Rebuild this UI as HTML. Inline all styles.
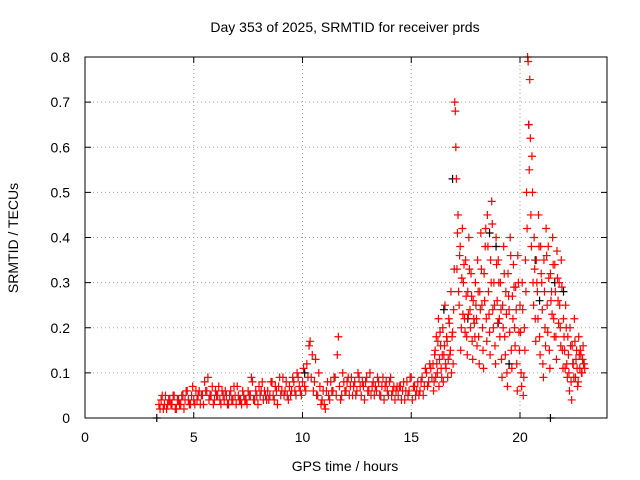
<!DOCTYPE html>
<html><head><meta charset="utf-8"><style>
html,body{margin:0;padding:0;background:#fff;}
svg{display:block;font-family:"Liberation Sans",sans-serif;}
</style></head><body>
<svg id="chart" width="640" height="480" viewBox="0 0 640 480" xmlns="http://www.w3.org/2000/svg">
<rect width="640" height="480" fill="#fff"/>
<text x="345" y="32" font-size="14" text-anchor="middle" fill="#000">Day 353 of 2025, SRMTID for receiver prds</text>
<text x="345" y="471" font-size="14" text-anchor="middle" fill="#000">GPS time / hours</text>
<text x="18" y="238" font-size="14" text-anchor="middle" fill="#000" transform="rotate(-90 18 238)">SRMTID / TECUs</text>
<g id="grid"></g><g id="ticks"></g><g id="marks"></g>
<rect x="85" y="57" width="522" height="361" fill="none" stroke="#000" stroke-width="1"/>
</svg>
<script>
const xTicks=[0,5,10,15,20];
const yTicks=[0,0.1,0.2,0.3,0.4,0.5,0.6,0.7,0.8];
const yTickLabels=["0","0.1","0.2","0.3","0.4","0.5","0.6","0.7","0.8"];
const bandAX=[3.4,3.5,3.6,3.7,3.8,3.9,4.0,4.1,4.2,4.3,4.4,4.5,4.6,4.7,4.8,4.9,5.0,5.1,5.2,5.3,5.4,5.5,5.6,5.7,5.8,5.9,6.0,6.1,6.2,6.3,6.4,6.5,6.6,6.7,6.8,6.9,7.0,7.1,7.2,7.3,7.4,7.5,7.6,7.7,7.8,7.9,8.0,8.1,8.2,8.3,8.4,8.5,8.6,8.7,8.8,8.9,9.0,9.1,9.2,9.3,9.4,9.5,9.6,9.7,9.8,9.9,10.0,10.1,10.2,10.3,10.4,10.5,10.6,10.7,10.8,10.9,11.0,11.1,11.2,11.3,11.4,11.5,11.6,11.7,11.8,11.9,12.0,12.1,12.2,12.3,12.4,12.5,12.6,12.7,12.8,12.9,13.0,13.1,13.2,13.3,13.4,13.5,13.6,13.7,13.8,13.9,14.0,14.1,14.2,14.3,14.4,14.5,14.6,14.7,14.8,14.9,15.0,15.1,15.2,15.3,15.4,15.5,15.6,15.7,15.8,15.9];
const bandAY=[.03,.04,.02,.05,.03,.04,.03,.05,.02,.04,.03,.05,.04,.06,.03,.05,.04,.06,.05,.03,.05,.08,.06,.04,.05,.03,.06,.05,.04,.06,.04,.05,.03,.06,.04,.05,.07,.04,.03,.05,.04,.06,.05,.08,.04,.05,.07,.06,.04,.05,.06,.05,.08,.04,.06,.07,.05,.09,.06,.05,.07,.06,.08,.05,.09,.06,.08,.07,.12,.16,.09,.06,.13,.05,.07,.04,.03,.06,.05,.08,.06,.09,.14,.07,.05,.08,.06,.09,.07,.05,.08,.06,.09,.05,.07,.08,.06,.10,.07,.05,.06,.08,.05,.09,.07,.06,.08,.05,.07,.06,.05,.07,.06,.04,.08,.06,.09,.07,.05,.08,.06,.09,.07,.10,.08,.11];
const bandBX=[3.45,3.55,3.65,3.75,3.85,3.95,4.05,4.15,4.25,4.35,4.45,4.55,4.65,4.75,4.85,4.95,5.05,5.15,5.25,5.35,5.45,5.55,5.65,5.75,5.85,5.95,6.05,6.15,6.25,6.35,6.45,6.55,6.65,6.75,6.85,6.95,7.05,7.15,7.25,7.35,7.45,7.55,7.65,7.75,7.85,7.95,8.05,8.15,8.25,8.35,8.45,8.55,8.65,8.75,8.85,8.95,9.05,9.15,9.25,9.35,9.45,9.55,9.65,9.75,9.85,9.95,10.05,10.15,10.25,10.35,10.45,10.55,10.65,10.75,10.85,10.95,11.05,11.15,11.25,11.35,11.45,11.55,11.65,11.75,11.85,11.95,12.05,12.15,12.25,12.35,12.45,12.55,12.65,12.75,12.85,12.95,13.05,13.15,13.25,13.35,13.45,13.55,13.65,13.75,13.85,13.95,14.05,14.15,14.25,14.35,14.45,14.55,14.65,14.75,14.85,14.95,15.05,15.15,15.25,15.35,15.45,15.55,15.65,15.75,15.85,15.95];
const bandBY=[.02,.05,.03,.02,.04,.03,.05,.02,.04,.03,.05,.02,.06,.04,.03,.07,.03,.04,.06,.05,.03,.06,.09,.05,.07,.04,.05,.07,.03,.05,.06,.03,.05,.04,.07,.03,.05,.04,.06,.04,.03,.05,.09,.04,.06,.03,.05,.08,.06,.04,.04,.08,.05,.07,.03,.09,.06,.05,.08,.04,.05,.09,.06,.10,.07,.05,.11,.06,.09,.17,.14,.08,.05,.10,.03,.06,.02,.08,.04,.06,.09,.05,.18,.04,.10,.06,.08,.05,.09,.07,.05,.10,.07,.08,.04,.09,.06,.05,.08,.07,.09,.05,.07,.04,.08,.05,.09,.06,.04,.07,.07,.04,.08,.06,.05,.09,.04,.07,.06,.05,.08,.05,.11,.07,.12,.09];
const actX=[16.0,16.05,16.1,16.15,16.2,16.25,16.3,16.35,16.4,16.45,16.5,16.55,16.6,16.65,16.7,16.75,16.8,16.85,16.9,16.95,17.0,17.05,17.1,17.15,17.2,17.25,17.3,17.35,17.4,17.45,17.5,17.55,17.6,17.65,17.7,17.75,17.8,17.85,17.9,17.95,18.0,18.05,18.1,18.15,18.2,18.25,18.3,18.35,18.4,18.45,18.5,18.55,18.6,18.65,18.7,18.75,18.8,18.85,18.9,18.95,19.0,19.05,19.1,19.15,19.2,19.25,19.3,19.35,19.4,19.45,19.5,19.55,19.6,19.65,19.7,19.75,19.8,19.85,19.9,19.95,20.0,20.05,20.1,20.15,20.2,20.25,20.3,20.35,20.4,20.45,20.5,20.55,20.6,20.65,20.7,20.75,20.8,20.85,20.9,20.95,21.0,21.05,21.1,21.15,21.2,21.25,21.3,21.35,21.4,21.45,21.5,21.55,21.6,21.65,21.7,21.75,21.8,21.85,21.9,21.95,22.0,22.05,22.1,22.15,22.2,22.25,22.3,22.35,22.4,22.45,22.5,22.55,22.6,22.65,22.7,22.75,22.8,22.85,22.9,22.95];
const actY1=[.12,.08,.15,.18,.10,.22,.13,.16,.09,.20,.14,.25,.11,.17,.13,.21,.15,.10,.19,.24,.70,.60,.33,.45,.25,.38,.20,.42,.30,.22,.35,.18,.28,.40,.24,.32,.17,.26,.21,.30,.22,.35,.18,.28,.41,.25,.15,.32,.38,.22,.45,.28,.19,.35,.48,.24,.30,.16,.40,.26,.35,.22,.30,.13,.25,.38,.18,.28,.10,.32,.24,.40,.15,.27,.34,.20,.29,.12,.36,.19,.25,.10,.30,.05,.20,.35,.50,.80,.65,.75,.45,.58,.30,.40,.22,.35,.28,.45,.18,.38,.30,.12,.35,.20,.42,.25,.38,.15,.32,.28,.40,.22,.34,.18,.37,.26,.30,.20,.35,.15,.22,.15,.25,.12,.18,.10,.20,.08,.16,.12,.22,.09,.15,.07,.18,.11,.14,.10,.16,.12];
const actY2=[.06,.14,.09,.12,.17,.07,.19,.11,.14,.08,.16,.12,.18,.09,.22,.14,.28,.18,.12,.33,.68,.53,.41,.28,.36,.15,.31,.23,.34,.19,.27,.14,.23,.33,.20,.27,.13,.22,.18,.25,.16,.28,.12,.24,.33,.20,.11,.26,.42,.17,.38,.23,.14,.30,.43,.20,.25,.12,.34,.21,.30,.18,.24,.09,.20,.32,.14,.23,.07,.27,.19,.36,.11,.22,.29,.16,.24,.06,.30,.15,.19,.07,.24,.09,.15,.28,.42,.79,.55,.62,.38,.50,.25,.33,.17,.30,.22,.38,.14,.32,.24,.09,.28,.16,.36,.19,.31,.11,.26,.23,.34,.18,.28,.13,.31,.21,.25,.16,.29,.11,.18,.11,.20,.09,.14,.06,.16,.04,.12,.09,.17,.13,.11,.08,.14,.15,.10,.13,.12,.11];
const blackX=[3.3,10.1,16.5,17.6,18.6,18.9,19.5,20.4,20.7,21.4,21.6,22.0,16.9,19.0,20.9];
const blackY=[0.0,0.1,0.24,0.22,0.41,0.38,0.12,0.65,0.35,0.0,0.30,0.28,0.53,0.21,0.26];

const X0=85,X1=607,Y0=418,Y1=57,XMAX=24,YMAX=0.8;
const sx=v=>X0+(X1-X0)*v/XMAX;
const sy=v=>Y0-(Y0-Y1)*v/YMAX;
const NS="http://www.w3.org/2000/svg";
function mk(tag,attrs,parent){const e=document.createElementNS(NS,tag);for(const k in attrs)e.setAttribute(k,attrs[k]);parent.appendChild(e);return e;}
const grid=document.getElementById('grid'),ticks=document.getElementById('ticks'),marks=document.getElementById('marks');
xTicks.forEach(t=>{
  const x=sx(t);
  if(t>0){const g=mk('line',{x1:x,x2:x,y1:Y1,y2:Y0,stroke:'#a0a0a0','stroke-dasharray':'1,3'},grid);
  
  }
  mk('line',{x1:x,x2:x,y1:Y0,y2:Y0-6,stroke:'#000'},ticks);
  mk('line',{x1:x,x2:x,y1:Y1,y2:Y1+6,stroke:'#000'},ticks);
  const tx=mk('text',{x:x,y:Y0+24,'font-size':14,'text-anchor':'middle'},ticks);
  tx.textContent=String(t);
  
  
});
yTicks.forEach((t,i)=>{
  const y=sy(t);
  if(t>0&&t<YMAX){const g=mk('line',{x1:X0,x2:X1,y1:y,y2:y,stroke:'#a0a0a0','stroke-dasharray':'1,3'},grid);
  
  }
  mk('line',{x1:X0,x2:X0+6,y1:y,y2:y,stroke:'#000'},ticks);
  mk('line',{x1:X1,x2:X1-6,y1:y,y2:y,stroke:'#000'},ticks);
  const tx=mk('text',{x:X0-15,y:y+5,'font-size':14,'text-anchor':'end'},ticks);
  tx.textContent=yTickLabels[i];
  
  
});
function plus(x,y,color,name){
  const X=sx(x),Y=sy(y);
  const p=mk('path',{d:`M${X-4} ${Y}H${X+4}M${X} ${Y-4}V${Y+4}`,stroke:color,'stroke-width':1.2,fill:'none'},marks);
  
  
}
blackX.forEach((x,i)=>plus(x,blackY[i],'#000','black-point'));
bandAX.forEach((x,i)=>plus(x,bandAY[i],'#ff0000','red-point'));
bandBX.forEach((x,i)=>plus(x,bandBY[i],'#ff0000','red-point'));
actX.forEach((x,i)=>{plus(x,actY1[i],'#ff0000','red-point');plus(x+0.025,actY2[i],'#ff0000','red-point');});
</script>
</body></html>
